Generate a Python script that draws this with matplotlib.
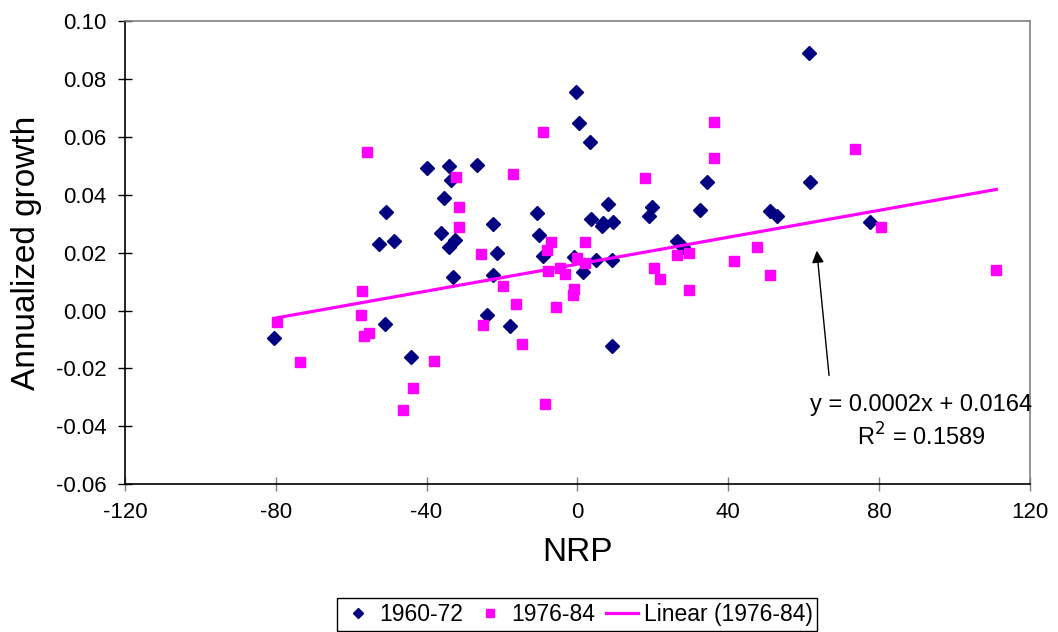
import numpy as np
import matplotlib
matplotlib.use('Agg')
import matplotlib.pyplot as plt

plt.rcParams['font.family'] = ['Liberation Sans', 'DejaVu Sans']
plt.rcParams['axes.unicode_minus'] = False

# 1960-72 (blue diamonds)
nrp_60 = [-80.4, -51.0, -44.0, -24.0, -39.8, -34.0, -26.5, -33.4, -35.5, -50.7,
          -22.3, -36.3, -32.4, -34.0, -52.5, -48.5, -21.2, -32.9, -22.5, -0.5,
          0.3, 3.4, -10.6, 8.2, 3.7, 19.9, 19.1, 6.9, 6.4, 9.5,
          -10.3, -9.0, -1.0, 5.0, 9.3, 1.6, 26.5, 28.0, -18.0, 9.3,
          61.5, 61.8, 34.4, 32.4, 51.2, 53.0, 77.7]
growth_60 = [-0.0093, -0.0045, -0.0159, -0.0015, 0.0493, 0.0500, 0.0503, 0.0452, 0.0390, 0.0341,
             0.0300, 0.0269, 0.0245, 0.0221, 0.0231, 0.0241, 0.0200, 0.0117, 0.0124, 0.0755,
             0.0648, 0.0583, 0.0338, 0.0369, 0.0317, 0.0359, 0.0328, 0.0303, 0.0293, 0.0307,
             0.0262, 0.0190, 0.0186, 0.0176, 0.0176, 0.0134, 0.0241, 0.0221, -0.0052, -0.0124,
             0.0890, 0.0445, 0.0445, 0.0348, 0.0345, 0.0327, 0.0307]

# 1976-84 (pink squares)
nrp_76 = [-55.7, -32.1, -31.3, -31.3, -25.5, -57.0, -57.5, -79.6, -55.2, -56.5,
          -73.5, -37.9, -43.5, -46.2, -24.9, -9.0, -17.2, 17.8, -6.9, -8.0,
          2.1, 0.0, 2.1, -4.5, -3.4, -7.7, -19.6, 20.4, 22.0, 26.3,
          -0.8, -1.1, -16.2, -5.8, -14.6, -8.5, 36.1, 36.1, 73.7, 80.6,
          29.7, 47.5, 41.6, 51.2, 29.7, 111.1]
growth_76 = [0.0548, 0.0462, 0.0359, 0.0290, 0.0197, 0.0069, -0.0014, -0.0041, -0.0076, -0.0089,
             -0.0178, -0.0173, -0.0266, -0.0345, -0.0048, 0.0617, 0.0472, 0.0459, 0.0238, 0.0210,
             0.0238, 0.0183, 0.0166, 0.0148, 0.0128, 0.0138, 0.0086, 0.0148, 0.0110, 0.0193,
             0.0076, 0.0055, 0.0024, 0.0014, -0.0117, -0.0324, 0.0652, 0.0528, 0.0559, 0.0290,
             0.0200, 0.0221, 0.0172, 0.0124, 0.0072, 0.0141]

x60, y60 = np.array(nrp_60), np.array(growth_60)
x76, y76 = np.array(nrp_76), np.array(growth_76)

# linear trend of 1976-84
slope, icpt = np.polyfit(x76, y76, 1)
xl = np.array([x76.min(), x76.max()])

fig = plt.figure(figsize=(10.58, 6.32), dpi=100)
ax = fig.add_axes([0.118, 0.234, 0.8555, 0.732])

ax.plot(x60, y60, 'D', color='#000080', markersize=7, linestyle='none', label='1960-72')
ax.plot(x76, y76, 's', color='#FF00FF', markersize=7, linestyle='none', label='1976-84')
ax.plot(xl, slope * xl + icpt, color='#FF00FF', linewidth=2.3, label='Linear (1976-84)')

ax.set_xlim(-120, 120)
ax.set_ylim(-0.06, 0.10)
ax.set_xticks(np.arange(-120, 121, 40))
ax.set_yticks(np.arange(-0.06, 0.101, 0.02))
ax.set_yticklabels(['%.2f' % v for v in np.arange(-0.06, 0.101, 0.02)])
ax.tick_params(direction='inout', length=10, width=1, labelsize=16, pad=8)
ax.tick_params(axis='x', colors='#808080', labelcolor='black')

for s in ['left', 'bottom']:
    ax.spines[s].set_color('black')
    ax.spines[s].set_linewidth(1.2)
for s in ['top', 'right']:
    ax.spines[s].set_color('#808080')
    ax.spines[s].set_linewidth(1.2)

ax.set_xlabel('NRP', fontsize=24, labelpad=10)
ax.set_ylabel('Annualized growth', fontsize=24, labelpad=10)

ax.annotate('', xy=(63.4, 0.0217), xytext=(66.8, -0.0234),
            arrowprops=dict(arrowstyle='-|>', color='black', lw=1, mutation_scale=18))
ax.text(91.2, -0.0328, 'y = 0.0002x + 0.0164', fontsize=17, ha='center', va='center')
ax.text(91.2, -0.0438, 'R$^2$ = 0.1589', fontsize=17, ha='center', va='center')

leg = fig.legend(loc='center', bbox_to_anchor=(0.5454, 0.0277), ncol=3, fontsize=16.5,
                 frameon=True, fancybox=False, edgecolor='black', framealpha=1,
                 handlelength=1.4, handletextpad=0.25, columnspacing=0.45,
                 borderpad=0.2, borderaxespad=0, markerscale=0.8)
leg.get_frame().set_linewidth(1)

fig.savefig('out.png', dpi=100)
